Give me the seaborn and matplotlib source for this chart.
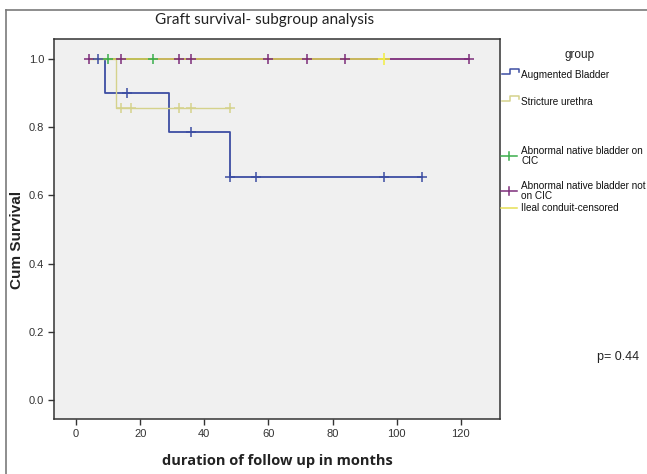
import numpy as np
import pandas as pd
import matplotlib
matplotlib.use("Agg")
import matplotlib.pyplot as plt
import seaborn as sns
from matplotlib.lines import Line2D

# ---------------- data ----------------
groups = ["Augmented Bladder", "Stricture urethra", "Abnormal native bladder on CIC",
          "Abnormal native bladder not on CIC", "Ileal conduit-censored"]

# step curves: time (months) and cumulative survival after each step
aug_t = [4, 9, 29, 48, 108]
aug_s = [1.0, 0.9, 0.786, 0.655, 0.655]
aug_cens_t = [7, 16, 36, 48, 56, 96, 108]
aug_cens_s = [1.0, 0.9, 0.786, 0.655, 0.655, 0.655, 0.655]

str_t = [4, 12.5, 48]
str_s = [1.0, 0.857, 0.857]
str_cens_t = [14, 17, 32, 36, 48]
str_cens_s = [0.857, 0.857, 0.857, 0.857, 0.857]

cic_t = [4, 24]
cic_s = [1.0, 1.0]
cic_cens_t = [10, 24]
cic_cens_s = [1.0, 1.0]

ncic_t = [4, 122.5]
ncic_s = [1.0, 1.0]
ncic_cens_t = [4, 14, 32, 36, 60, 72, 84, 122.5]
ncic_cens_s = [1.0] * 8

ile_t = [4, 96]
ile_s = [1.0, 1.0]
ile_cens_t = [96]
ile_cens_s = [1.0]

x_ticks = [0, 20, 40, 60, 80, 100, 120]
y_ticks = [0.0, 0.2, 0.4, 0.6, 0.8, 1.0]
p_text = "p= 0.44"

colors = {
    "Augmented Bladder": "#3d4ea3",
    "Stricture urethra": "#d5d28c",
    "Abnormal native bladder on CIC": "#3aae4c",
    "Abnormal native bladder not on CIC": "#7d2d7a",
    "Ileal conduit-censored": "#e6df55",
}

# ---------------- figure ----------------
W, H = 647, 474
fig = plt.figure(figsize=(W / 100, H / 100), dpi=100)
fig.patch.set_facecolor("white")

def fx(px):
    return px / W

def fy(py):
    return 1 - py / H

ax = fig.add_axes([fx(54), fy(419), (500 - 54) / W, (419 - 39) / H])
ax.set_facecolor("#f0f0f0")

def curve(t, s, col, lw, z):
    df = pd.DataFrame({"t": t, "s": s})
    sns.lineplot(data=df, x="t", y="s", ax=ax, color=col, lw=lw,
                 drawstyle="steps-post", estimator=None, sort=False, zorder=z)

def cens(t, s, col, z, size=55):
    df = pd.DataFrame({"t": t, "s": s})
    sns.scatterplot(data=df, x="t", y="s", ax=ax, color=col, marker="+",
                    s=size, linewidth=1.1, zorder=z)

curve(ncic_t, ncic_s, colors["Abnormal native bladder not on CIC"], 1.3, 2)
curve(cic_t, cic_s, colors["Abnormal native bladder on CIC"], 1.3, 3)
curve(aug_t, aug_s, colors["Augmented Bladder"], 1.3, 4)
curve(str_t, str_s, colors["Stricture urethra"], 1.0, 5)
curve(ile_t, ile_s, "#cfc35a", 1.3, 6)

cens(ncic_cens_t, ncic_cens_s, colors["Abnormal native bladder not on CIC"], 7)
cens(cic_cens_t, cic_cens_s, colors["Abnormal native bladder on CIC"], 7)
cens(aug_cens_t, aug_cens_s, colors["Augmented Bladder"], 7)
cens(str_cens_t, str_cens_s, colors["Stricture urethra"], 7)
cens(ile_cens_t, ile_cens_s, "#f2ee40", 8, size=70)

ax.set_xlim(-6.86, 132.2)
ax.set_ylim(-0.056, 1.059)
ax.set_xticks(x_ticks)
ax.set_yticks(y_ticks)
ax.set_yticklabels([f"{v:.1f}" for v in y_ticks])
ax.set_xlabel("")
ax.set_ylabel("")
for sp in ax.spines.values():
    sp.set_color("#333333")
    sp.set_linewidth(1.1)
ax.tick_params(direction="out", length=4, width=1, color="#333333",
               labelsize=8, labelcolor="#333333", pad=3)
for lab in ax.get_xticklabels() + ax.get_yticklabels():
    lab.set_family("Liberation Sans")

# axis labels
fig.text(fx(277), fy(461), "duration of follow up in months", ha="center", va="center",
         fontsize=10.5, fontweight="bold", family="Open Sans", color="#222222")
fig.text(fx(17), fy(240), "Cum Survival", ha="center", va="center", rotation=90,
         fontsize=11, fontweight="bold", family="Liberation Sans", color="#222222")

# title
fig.text(fx(265), fy(20), "Graft survival- subgroup analysis", ha="center", va="center",
         fontsize=11, family="Lato", color="#222222")

# p value
fig.text(fx(597), fy(357), p_text, ha="left", va="center", fontsize=9,
         family="Liberation Sans", color="#222222")

# outer frame (left and top edges visible)
fig.add_artist(Line2D([fx(6), fx(6)], [fy(10), 0], transform=fig.transFigure,
                      color="#7a7a7a", lw=1.2))
fig.add_artist(Line2D([fx(6), 1], [fy(10), fy(10)], transform=fig.transFigure,
                      color="#7a7a7a", lw=1.2))

# legend (manual, SPSS style)
fig.text(fx(580), fy(55), "group", ha="center", va="center", fontsize=8.5,
         family="Liberation Sans", color="#222222")
leg_y = [75, 102, 156, 191, 208]
leg_txt = ["Augmented Bladder", "Stricture urethra", "Abnormal native bladder on\nCIC",
           "Abnormal native bladder not\non CIC", "Ileal conduit-censored"]
for g, y, txt in zip(groups, leg_y, leg_txt):
    fig.text(fx(521), fy(y), txt, ha="left", va="center", fontsize=7.2,
             family="Liberation Sans", color="#111111", linespacing=1.12)
    c = colors[g]
    if g in ("Augmented Bladder", "Stricture urethra"):
        xs = [502, 510, 510, 519, 519]
        ys = [y - 1, y - 1, y - 6, y - 6, y - 3]
        fig.add_artist(Line2D([fx(v) for v in xs], [fy(v) for v in ys],
                              transform=fig.transFigure, color=c, lw=1.1))
    else:
        fig.add_artist(Line2D([fx(501), fx(517)], [fy(y), fy(y)],
                              transform=fig.transFigure, color=c, lw=1.1))
        if g != "Ileal conduit-censored":
            fig.add_artist(Line2D([fx(509), fx(509)], [fy(y - 4), fy(y + 4)],
                                  transform=fig.transFigure, color=c, lw=1.1))

fig.savefig("out.png", dpi=100)
